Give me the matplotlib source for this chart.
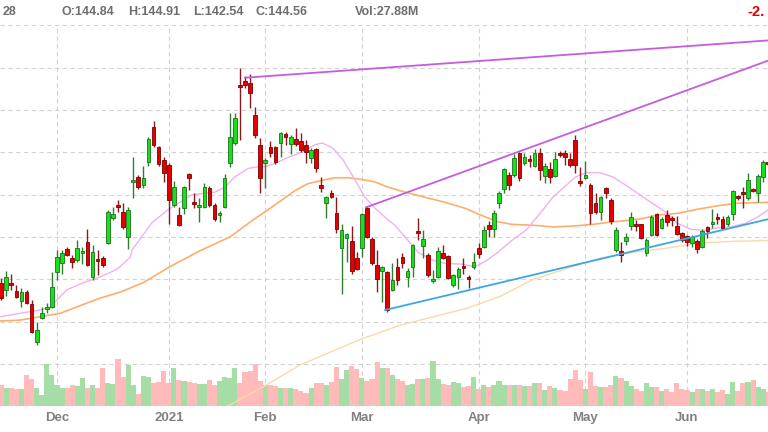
import matplotlib.pyplot as plt
import numpy as np

# daily candles (price units), Nov 13 2020 .. Jun 2021
opens = [129.6, 128.8, 129.6, 128.6, 127.4, 128.5, 127.1, 122.6, 125.5, 126.5,
         126.7, 130.9, 131.9, 133.6, 132.5, 132.3, 133.1, 134.4, 130.3, 132.4,
         132.5, 134.3, 137.2, 138.8, 138.0, 135.0, 141.5, 142.1, 141.1, 143.9,
         148.0, 145.6, 144.1, 143.5, 138.8, 137.6, 138.4, 142.4, 139.1, 138.5,
         138.5, 140.8, 138.8, 137.6, 138.5, 143.7, 146.1, 152.9, 153.4, 153.2,
         149.4, 145.9, 143.7, 145.6, 145.6, 146.1, 147.2, 146.0, 146.6, 146.3,
         145.9, 144.3, 145.4, 141.1, 139.0, 140.2, 137.8, 133.7, 134.9, 134.5,
         132.5, 133.7, 138.4, 134.8, 131.7, 131.0, 130.9, 128.8, 131.5, 132.6,
         130.3, 131.5, 135.7, 133.9, 132.9, 129.8, 130.3, 133.1, 132.8, 129.4,
         130.3, 131.6, 130.3, 131.5, 133.7, 133.8, 136.4, 135.9, 139.0, 140.7,
         142.3, 142.3, 144.9, 143.7, 144.2, 143.4, 144.9, 142.2, 143.0, 142.2,
         144.9, 144.9, 144.2, 146.4, 141.6, 142.0, 141.1, 139.0, 138.0, 140.8,
         139.4, 133.5, 133.4, 134.5, 136.3, 136.6, 136.5, 133.1, 135.2, 137.7,
         136.1, 137.6, 137.2, 136.3, 135.5, 135.1, 134.3, 134.5, 133.8, 136.2,
         136.5, 137.4, 137.1, 136.5, 137.7, 139.8, 140.3, 139.6, 140.7, 140.2,
         142.1, 143.9]
highs = [130.2, 131.0, 130.7, 129.3, 129.0, 128.8, 127.6, 125.0, 126.7, 127.2,
         130.9, 133.5, 133.5, 133.8, 132.9, 134.6, 133.8, 135.9, 134.1, 133.5,
         132.8, 138.2, 138.5, 139.4, 139.0, 138.5, 144.4, 142.3, 143.4, 146.8,
         148.7, 145.7, 144.4, 143.7, 141.6, 138.5, 141.0, 142.6, 140.2, 139.6,
         141.4, 141.0, 139.0, 138.1, 142.4, 149.6, 149.6, 155.0, 154.0, 154.2,
         150.3, 146.7, 144.3, 146.3, 145.7, 147.4, 147.4, 147.0, 147.9, 147.3,
         146.4, 145.5, 145.5, 142.1, 139.8, 140.5, 139.7, 136.6, 135.5, 136.3,
         133.2, 137.8, 138.7, 135.0, 133.5, 131.6, 131.0, 131.9, 132.5, 133.1,
         131.3, 134.2, 137.2, 135.8, 133.1, 131.1, 133.8, 134.1, 132.9, 130.6,
         131.5, 132.5, 130.5, 133.1, 134.3, 136.3, 136.9, 138.2, 140.4, 143.1,
         142.7, 144.8, 145.0, 144.9, 144.7, 145.4, 145.5, 143.7, 143.9, 145.0,
         145.1, 145.3, 144.9, 147.0, 143.3, 144.0, 141.4, 140.2, 139.8, 140.9,
         139.6, 136.2, 134.4, 135.5, 138.0, 137.0, 136.6, 134.9, 137.6, 137.8,
         137.4, 138.2, 137.5, 137.5, 135.6, 135.2, 135.2, 134.8, 135.9, 136.3,
         138.3, 137.8, 137.5, 137.6, 140.5, 140.0, 140.9, 142.6, 140.8, 142.4,
         144.1, 144.0]
lows = [127.6, 128.0, 128.8, 127.8, 126.7, 127.1, 123.7, 122.3, 125.3, 126.0,
        126.6, 129.9, 130.7, 132.8, 131.3, 132.1, 131.8, 131.6, 129.9, 130.5,
        131.5, 134.2, 137.0, 138.0, 135.9, 133.6, 139.6, 140.7, 140.8, 143.4,
        145.6, 143.4, 141.5, 136.6, 138.5, 136.3, 137.7, 140.5, 138.4, 136.8,
        138.4, 138.5, 136.9, 136.8, 138.4, 143.3, 145.9, 146.4, 152.6, 150.2,
        146.7, 140.2, 140.8, 144.4, 143.6, 144.4, 145.9, 144.8, 145.7, 145.0,
        143.7, 143.7, 142.7, 140.3, 137.2, 139.6, 135.5, 128.3, 132.1, 130.6,
        131.1, 132.6, 134.9, 131.7, 128.5, 127.3, 126.2, 128.6, 129.3, 131.3,
        129.1, 130.3, 134.6, 132.5, 130.3, 129.6, 130.2, 132.4, 130.0, 129.1,
        128.9, 130.7, 129.0, 131.2, 132.5, 133.7, 135.0, 135.0, 138.4, 140.2,
        140.5, 142.1, 141.6, 143.5, 143.3, 143.3, 141.7, 141.4, 141.4, 142.1,
        144.4, 143.5, 143.3, 142.6, 141.0, 141.8, 136.6, 137.7, 137.0, 139.6,
        136.6, 133.2, 132.1, 134.1, 135.8, 135.7, 134.8, 132.8, 135.1, 135.1,
        135.9, 136.3, 136.3, 135.2, 134.4, 133.9, 133.8, 133.1, 133.7, 134.9,
        136.1, 136.6, 135.9, 136.3, 137.0, 139.4, 138.4, 139.4, 140.3, 139.1,
        141.5, 143.4]
closes = [127.8, 130.3, 129.3, 127.9, 128.5, 127.2, 123.8, 124.0, 126.0, 126.7,
          129.1, 132.6, 133.1, 132.9, 132.1, 133.7, 133.4, 131.7, 133.2, 132.2,
          131.7, 138.0, 137.7, 138.5, 136.2, 138.2, 141.7, 140.9, 142.0, 146.6,
          145.9, 143.6, 142.6, 139.4, 140.9, 136.4, 140.9, 142.0, 138.9, 138.8,
          140.9, 138.8, 137.1, 137.8, 142.0, 146.8, 149.0, 152.7, 153.0, 152.0,
          147.0, 142.0, 144.1, 144.9, 143.9, 147.3, 146.8, 146.8, 146.0, 145.3,
          145.0, 145.3, 143.1, 140.8, 139.7, 139.7, 135.9, 135.8, 135.4, 131.0,
          131.2, 137.7, 135.0, 131.9, 130.0, 131.5, 126.4, 129.9, 129.9, 131.9,
          131.0, 134.1, 135.5, 134.8, 130.5, 130.0, 133.4, 132.5, 130.2, 130.5,
          131.2, 131.3, 130.0, 132.1, 133.0, 135.8, 135.9, 137.8, 140.2, 143.0,
          141.1, 144.3, 142.0, 144.4, 144.0, 144.9, 142.9, 143.4, 142.1, 144.2,
          144.7, 144.4, 143.5, 143.5, 141.4, 142.3, 137.8, 138.0, 139.7, 140.2,
          136.9, 135.8, 132.9, 135.0, 137.4, 136.3, 134.9, 134.6, 137.4, 135.2,
          137.1, 136.8, 137.0, 135.4, 134.6, 134.4, 135.0, 133.6, 135.7, 135.7,
          136.8, 137.1, 136.1, 137.4, 140.4, 139.6, 140.1, 141.7, 140.4, 142.2,
          143.9, 143.6]
# volume in millions
volumes = [42, 36, 36, 34, 34, 62, 54, 36, 22, 84,
           62, 42, 36, 36, 42, 40, 56, 36, 42, 36,
           76, 46, 44, 94, 58, 82, 42, 24, 60, 58,
           46, 48, 70, 46, 76, 52, 50, 48, 46, 44,
           44, 52, 42, 50, 58, 56, 76, 46, 68, 70,
           84, 50, 42, 42, 40, 36, 36, 36, 34, 30,
           26, 36, 46, 46, 42, 48, 78, 54, 72, 80,
           74, 56, 50, 54, 88, 76, 76, 62, 54, 50,
           42, 44, 54, 54, 56, 90, 54, 44, 42, 48,
           46, 38, 40, 58, 34, 42, 38, 42, 50, 42,
           42, 42, 42, 40, 40, 46, 46, 32, 40, 36,
           32, 30, 54, 72, 52, 34, 68, 40, 38, 38,
           42, 60, 56, 50, 40, 34, 30, 46, 38, 38,
           30, 34, 28, 46, 34, 32, 28, 34, 34, 30,
           34, 28, 32, 24, 48, 30, 46, 48, 52, 38,
           34, 28]

# moving averages as drawn on the chart (candle index, price)
ma20_idx = [-0.2, 3.7, 7.7, 9.6, 11.0, 13.0, 16.1, 19.5, 22.8, 25.4, 25.8, 29.7,
            32.8, 37.6, 42.1, 44.1, 46.0, 48.6, 50.6, 52.0, 53.9, 56.5, 59.2,
            61.8, 63.2, 65.3, 67.3, 69.1, 71.6, 73.6, 76.2, 77.5, 79.5, 82.1,
            84.8, 87.4, 90.7, 93.3, 95.2, 97.8, 100.5, 103.3, 106.1, 108.6,
            111.2, 113.1, 115.1, 117.9, 120.4, 123.0, 125.7, 127.9, 130.7,
            133.2, 135.8, 138.5, 141.1, 143.6, 146.4, 149.0, 150.9]
ma20_val = [125.6, 126.0, 126.4, 126.7, 127.6, 128.8, 129.6, 130.3, 131.2, 132.6,
            133.5, 136.7, 138.2, 140.0, 140.3, 140.9, 142.1, 143.1, 143.3, 143.3,
            143.7, 144.4, 145.0, 145.9, 146.1, 145.5, 144.1, 142.3, 139.7, 138.4,
            137.0, 136.4, 135.0, 133.2, 132.3, 131.9, 131.8, 131.5, 132.1, 133.2,
            134.6, 135.8, 137.8, 139.7, 141.1, 142.1, 142.6, 142.6, 142.1, 141.1,
            140.0, 139.1, 138.0, 136.6, 135.9, 135.8, 136.1, 136.2, 136.6, 137.4,
            138.2]
ma50_idx = [-0.2, 3.7, 7.7, 11.6, 15.5, 19.5, 23.4, 27.9, 33.2, 39.2, 45.0,
            50.0, 52.5, 55.3, 57.9, 60.4, 63.2, 65.7, 68.3, 71.0, 73.6, 76.1,
            79.5, 83.4, 87.4, 91.3, 95.2, 97.8, 100.5, 104.7, 108.6, 112.6,
            116.5, 120.4, 123.8, 126.3, 129.3, 133.2, 137.2, 141.1, 145.0, 150.9]
ma50_val = [125.1, 125.2, 125.6, 126.0, 126.9, 127.8, 128.5, 129.6, 131.5, 133.4,
            135.0, 137.2, 138.2, 139.4, 140.5, 141.3, 141.7, 142.0, 142.0, 141.8,
            141.5, 140.9, 140.3, 139.7, 139.1, 138.4, 137.4, 136.8, 136.5, 136.4,
            136.2, 136.3, 136.5, 136.8, 137.0, 137.2, 137.6, 137.8, 138.3, 138.7,
            139.0, 139.1]
ma200_idx = [42.0, 44.7, 51.5, 58.8, 70.6, 78.5, 91.7, 98.2, 104.7, 111.4,
             117.9, 124.4, 131.1, 137.6, 144.1, 150.9]
ma200_val = [114.5, 115.1, 117.3, 119.9, 122.9, 124.6, 126.6, 128.0, 130.0,
             131.3, 132.5, 133.2, 133.7, 134.3, 134.5, 134.6]

# user trend lines: (start idx, start price, end idx, end price)
trend_top = (48.0, 153.8, 150.9, 158.2)
trend_mid = (71.8, 138.5, 150.9, 155.8)
trend_low = (75.6, 126.4, 150.9, 137.1)

month_pos = [11, 33, 52, 71, 94, 115, 135]
month_labels = ['Dec', '2021', 'Feb', 'Mar', 'Apr', 'May', 'Jun']
grid_prices = [120, 125, 130, 135, 140, 145, 150, 155, 160]

plt.rcParams['font.family'] = ['Liberation Sans', 'DejaVu Sans']

o = np.array(opens)
h = np.array(highs)
l = np.array(lows)
c = np.array(closes)
x = np.arange(len(c))
up = c >= o

fig = plt.figure(figsize=(7.68, 4.32), dpi=100)
rect = [0, 26 / 432, 1, 381 / 432]
ax = fig.add_axes(rect)
ax_vol = fig.add_axes(rect, sharex=ax)
ax_px = fig.add_axes(rect, sharex=ax, sharey=ax)

# grid / month labels
ax.set_xlim(-0.22, 150.94)
ax.set_ylim(115.07, 160.02)
ax.set_yticks(grid_prices)
ax.set_xticks(month_pos, month_labels)
ax.grid(True, linestyle=(0, (4, 3)), color='#d2d2d2', lw=0.8)
ax.tick_params(length=0, labelleft=False, pad=4)
for t in ax.get_xticklabels():
    t.set_fontsize(9.5)
    t.set_fontweight('bold')
    t.set_color('#808080')
for s in ax.spines.values():
    s.set_visible(False)

# volume
ax_vol.bar(x, volumes, width=1.0, lw=0,
           color=np.where(up, '#a6dca6', '#ffbaba'))
ax_vol.set_ylim(0, 762)
ax_vol.axis('off')

# moving averages + trend lines
ax_px.plot(ma200_idx, ma200_val, color='#fbd9a9', lw=1.0, zorder=1)
ax_px.plot(ma50_idx, ma50_val, color='#ffad6b', lw=1.2, zorder=1)
ax_px.plot(ma20_idx, ma20_val, color='#f2b0ee', lw=1.0, zorder=1)

# candles
ax_px.vlines(x, l, h, colors=np.where(up, '#2f7d2f', '#8b1a1a'), lw=1.0, zorder=2)
body = np.abs(c - o)
bottom = np.where(body < 0.2, (o + c) / 2 - 0.1, np.minimum(o, c))
ax_px.bar(x, np.maximum(body, 0.2), bottom=bottom, width=0.72,
          color=np.where(up, '#16e016', '#e50000'),
          edgecolor=np.where(up, '#1d6e1d', '#7a0000'), lw=0.6, zorder=3)

for (x0, y0, x1, y1), col in [(trend_top, '#c55ce0'), (trend_mid, '#c55ce0'),
                              (trend_low, '#3aa7e6')]:
    ax_px.plot([x0, x1], [y0, y1], color=col, lw=1.3, zorder=4)
ax_px.axis('off')

# header
hy = 1 - 12 / 432
hdr = dict(fontsize=9, fontweight='bold', color='#6e6e6e', va='center')
fig.text(3 / 768, hy, '28', **hdr)
fig.text(62 / 768, hy, 'O:144.84', **hdr)
fig.text(128 / 768, hy, 'H:144.91', **hdr)
fig.text(193 / 768, hy, 'L:142.54', **hdr)
fig.text(256 / 768, hy, 'C:144.56', **hdr)
fig.text(355 / 768, hy, 'Vol:27.88M', **hdr)
fig.text(747 / 768, hy, '-2.', fontsize=10.5, fontweight='bold', color='#e00000', va='center')

fig.savefig('out.png', dpi=100)
